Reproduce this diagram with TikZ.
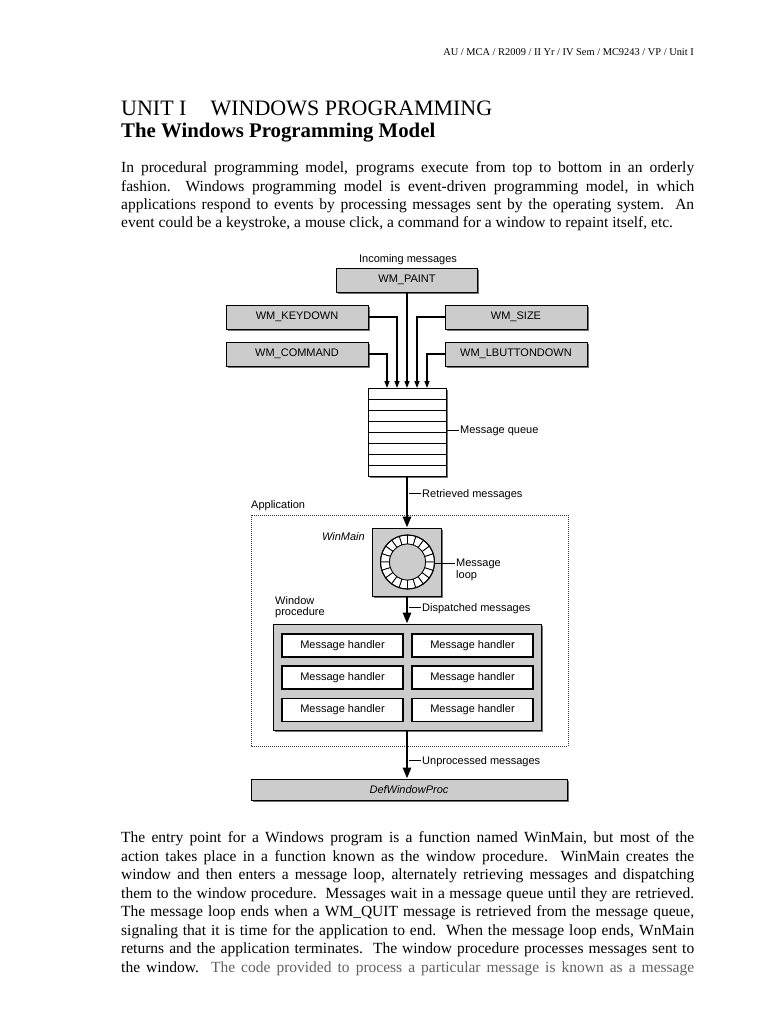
\documentclass[tikz,border=0pt]{standalone}
\usepackage{fontspec}
\setmainfont{Liberation Serif}
\newfontfamily\diagfont{Liberation Sans}
\usetikzlibrary{arrows.meta,shadows}
\definecolor{boxgray}{gray}{0.8}
\definecolor{shadowgray}{gray}{0.45}
\definecolor{fadetext}{gray}{0.38}
\tikzset{
  msgbox/.style={draw=black, line width=0.8pt, fill=boxgray,
    drop shadow={shadow xshift=1.6pt, shadow yshift=-1.6pt, fill=shadowgray, opacity=1},
    font=\diagfont\fontsize{11}{13}\selectfont, inner sep=0pt},
  handler/.style={draw=black, line width=1.2pt, fill=white, minimum width=121pt,
    minimum height=23pt, inner sep=0pt, font=\diagfont\fontsize{11}{13}\selectfont},
  inarrow/.style={line width=1.3pt, -{Triangle[length=7pt,width=5pt]}},
  bigarrow/.style={line width=2.6pt, -{Triangle[length=11pt,width=8pt]}},
  tickline/.style={line width=0.9pt},
  lbl/.style={font=\diagfont\fontsize{11}{13}\selectfont, inner sep=0pt},
  cell/.style={draw=black, line width=0.8pt, fill=white},
  appbox/.style={draw=black!80, line width=0.9pt, dash pattern=on 1pt off 1pt},
  bodyline/.style={anchor=base west, inner sep=0pt, font=\fontsize{15.5}{18}\selectfont},
}
\newcommand{\jline}[1]{\makebox[573pt][s]{#1}}
\begin{document}
\begin{tikzpicture}[x=1pt,y=-1pt]
\useasboundingbox[fill=white] (0,0) rectangle (768,1024);

% header and titles
\node[anchor=base east, inner sep=0pt, font=\fontsize{10.4}{12}\selectfont] (hdr) at (694,55.5)
  {AU / MCA / R2009 / II Yr / IV Sem / MC9243 / VP / Unit I};
\node[anchor=base west, inner sep=0pt, font=\fontsize{22}{26}\selectfont] (title) at (121,115.5)
  {UNIT I\hspace*{24pt}WINDOWS PROGRAMMING};
\node[anchor=base west, inner sep=0pt, font=\bfseries\fontsize{20.8}{24}\selectfont] (subtitle) at (121,137.5)
  {The Windows Programming Model};

% first paragraph
\node[bodyline] (p1a) at (121,173) {\jline{In procedural programming model, programs execute from top to bottom in an orderly}};
\node[bodyline] (p1b) at (121,191.2) {\jline{fashion.\ \ Windows programming model is event-driven programming model, in which}};
\node[bodyline] (p1c) at (121,209.4) {\jline{applications respond to events by processing messages sent by the operating system.\ \ An}};
\node[bodyline] (p1d) at (121,227.6) {event could be a keystroke, a mouse click, a command for a window to repaint itself, etc.};

% incoming messages
\node[lbl, anchor=base] (inc) at (408,262) {Incoming messages};
\node[msgbox, minimum width=141pt, minimum height=24pt] (paint) at (407,280) {WM\_PAINT};
\node[msgbox, minimum width=142pt, minimum height=24pt] (kd) at (297,317) {WM\_KEYDOWN};
\node[msgbox, minimum width=142pt, minimum height=24pt] (size) at (516,317) {WM\_SIZE};
\node[msgbox, minimum width=142pt, minimum height=24pt] (cmd) at (297,354) {WM\_COMMAND};
\node[msgbox, minimum width=142pt, minimum height=24pt] (lb) at (516,354) {WM\_LBUTTONDOWN};

% message queue
\node[draw=black, line width=0.9pt, fill=white, minimum width=78pt, minimum height=88pt, inner sep=0pt,
  drop shadow={shadow xshift=1.6pt, shadow yshift=-1.6pt, fill=shadowgray, opacity=1}] (q) at (407,432) {};
\foreach \yy in {399,410,421,432,443,454,465} {
  \draw[line width=0.9pt] (368,\yy) -- (446,\yy);
}
\coordinate (in1) at (387,388);
\coordinate (in2) at (397,388);
\coordinate (in3) at (407,388);
\coordinate (in4) at (417,388);
\coordinate (in5) at (427,388);
\draw[inarrow] (cmd.east) -| (in1);
\draw[inarrow] (kd.east) -| (in2);
\draw[inarrow] (paint.south) -- (in3);
\draw[inarrow] (size.west) -| (in4);
\draw[inarrow] (lb.west) -| (in5);

\node[lbl, anchor=base west] (mq) at (460,433.5) {Message queue};
\draw[tickline] (446,430) -- (458.5,430);

% application frame
\draw[appbox] (251,515) rectangle (568,746);
\node[lbl, anchor=base west] (app) at (251,508) {Application};

% WinMain
\node[msgbox, minimum width=69pt, minimum height=68pt] (wm) at (407,562) {};
\node[lbl, anchor=base east, font=\diagfont\itshape\fontsize{11}{13}\selectfont] (wmlbl) at (365,540) {WinMain};
\begin{scope}[shift={(407.5,562)}]
  \foreach \k in {0,...,19} {
    \pgfmathsetmacro\aa{\k*18}
    \pgfmathsetmacro\bb{\k*18+18}
    \draw[cell] (\aa:18pt) -- (\aa:27pt) arc[start angle=\aa, end angle=\bb, radius=27pt]
      -- (\bb:18pt) arc[start angle=\bb, end angle=\aa, radius=18pt] -- cycle;
  }
  \draw[line width=1pt] (0,0) circle[radius=27pt];
  \draw[line width=0.8pt, fill=boxgray] (0,0) circle[radius=18pt];
\end{scope}
\node[lbl, anchor=north west, align=left, font=\diagfont\fontsize{11}{12}\selectfont] (ml) at (456,559) {Message\\loop};
\draw[tickline] (434.5,563) -- (455,563);

\draw[bigarrow] (q.south) -- (wm.north);
\node[lbl, anchor=base west] (rm) at (422,497) {Retrieved messages};
\draw[tickline] (409,493.5) -- (421,493.5);

% window procedure
\node[lbl, anchor=north west, align=left, font=\diagfont\fontsize{11}{11.2}\selectfont] (wpl) at (275,596) {Window\\procedure};
\node[msgbox, minimum width=268pt, minimum height=106pt] (wp) at (407,677) {};
\draw[bigarrow] (wm.south) -- (wp.north);
\node[lbl, anchor=base west] (dm) at (422,611) {Dispatched messages};
\draw[tickline] (409,607.5) -- (421,607.5);

\node[handler] (h1) at (342.5,645.5) {Message handler};
\node[handler] (h2) at (472.5,645.5) {Message handler};
\node[handler] (h3) at (342.5,677.5) {Message handler};
\node[handler] (h4) at (472.5,677.5) {Message handler};
\node[handler] (h5) at (342.5,710) {Message handler};
\node[handler] (h6) at (472.5,710) {Message handler};

% DefWindowProc
\node[msgbox, minimum width=316pt, minimum height=21pt, font=\diagfont\itshape\fontsize{11}{13}\selectfont] (dwp) at (409,789.5) {DefWindowProc};
\draw[bigarrow] (wp.south) -- (wp.south |- dwp.north);
\node[lbl, anchor=base west] (um) at (422,764) {Unprocessed messages};
\draw[tickline] (409,760.5) -- (421,760.5);

% second paragraph
\node[bodyline] (p2a) at (121,842.5) {\jline{The entry point for a Windows program is a function named WinMain, but most of the}};
\node[bodyline] (p2b) at (121,861.05) {\jline{action takes place in a function known as the window procedure.\ \ WinMain creates the}};
\node[bodyline] (p2c) at (121,879.6) {\jline{window and then enters a message loop, alternately retrieving messages and dispatching}};
\node[bodyline] (p2d) at (121,898.15) {\jline{them to the window procedure.\ \ Messages wait in a message queue until they are retrieved.}};
\node[bodyline] (p2e) at (121,916.7) {\jline{The message loop ends when a WM\_QUIT message is retrieved from the message queue,}};
\node[bodyline] (p2f) at (121,935.25) {\jline{signaling that it is time for the application to end.\ \ When the message loop ends, WnMain}};
\node[bodyline] (p2g) at (121,953.8) {\jline{returns and the application terminates.\ \ The window procedure processes messages sent to}};
\node[bodyline] (p2h) at (121,972.35) {\jline{the window.\ \ \textcolor{fadetext}{The code provided to process a particular message is known as a message}}};
\end{tikzpicture}
\end{document}
